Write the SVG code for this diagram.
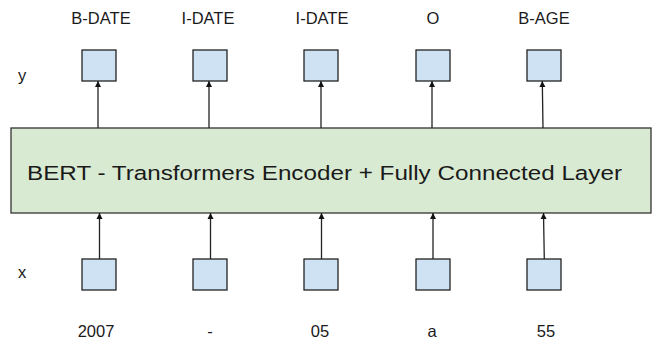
<svg xmlns="http://www.w3.org/2000/svg" width="665" height="344" viewBox="0 0 665 344">
<style>
text{font-family:"Liberation Sans",Arial,sans-serif;fill:#1a1a1a;text-anchor:middle;dominant-baseline:central}
.lbl{font-size:16.5px}
.tok{fill:#cfe2f3;stroke:#222;stroke-width:1.3}
.main{fill:#d9ead3;stroke:#333;stroke-width:1.3}
.c{stroke:#222;stroke-width:1.3;fill:none;marker-end:url(#ah)}
</style>
<defs>
<marker id="ah" viewBox="0 0 6 8" refX="6" refY="4" markerWidth="6" markerHeight="8" markerUnits="userSpaceOnUse" orient="auto">
<path d="M0,1 L6,4 L0,7 Z" fill="#111"/>
</marker>
</defs>
<rect width="665" height="344" fill="#fff"/>
<text class="lbl" x="22" y="75">y</text>
<text class="lbl" x="22" y="272">x</text>
<g id="main"><rect class="main" x="11" y="128" width="640" height="85"/>
<text x="324.5" y="172" style="font-size:20.5px" textLength="595" lengthAdjust="spacingAndGlyphs">BERT - Transformers Encoder + Fully Connected Layer</text></g>
<g id="y1"><rect class="tok" x="82" y="50" width="34" height="31"/><text class="lbl" x="101" y="18">B-DATE</text></g>
<g id="y2"><rect class="tok" x="193" y="50" width="34" height="31"/><text class="lbl" x="208" y="18">I-DATE</text></g>
<g id="y3"><rect class="tok" x="304" y="50" width="34" height="31"/><text class="lbl" x="322" y="18">I-DATE</text></g>
<g id="y4"><rect class="tok" x="416" y="50" width="34" height="31"/><text class="lbl" x="433" y="18">O</text></g>
<g id="y5"><rect class="tok" x="527" y="50" width="34" height="31"/><text class="lbl" x="544" y="18">B-AGE</text></g>
<g id="x1"><rect class="tok" x="82" y="259" width="34" height="31"/><text class="lbl" x="96" y="331">2007</text></g>
<g id="x2"><rect class="tok" x="193" y="259" width="34" height="31"/><text class="lbl" x="210" y="331">-</text></g>
<g id="x3"><rect class="tok" x="304" y="259" width="34" height="31"/><text class="lbl" x="320" y="331">05</text></g>
<g id="x4"><rect class="tok" x="416" y="259" width="34" height="31"/><text class="lbl" x="432" y="331">a</text></g>
<g id="x5"><rect class="tok" x="527" y="259" width="34" height="31"/><text class="lbl" x="546" y="331">55</text></g>
<g id="connectors">
<line class="c" x1="98" y1="128" x2="98" y2="81"/>
<line class="c" x1="209" y1="128" x2="209" y2="81"/>
<line class="c" x1="321" y1="128" x2="321" y2="81"/>
<line class="c" x1="432" y1="128" x2="432" y2="81"/>
<line class="c" x1="543" y1="128" x2="542.3" y2="81"/>
<line class="c" x1="99.5" y1="259" x2="99.5" y2="213"/>
<line class="c" x1="210.5" y1="259" x2="210.5" y2="213"/>
<line class="c" x1="321.5" y1="259" x2="321.5" y2="213"/>
<line class="c" x1="433" y1="259" x2="433" y2="213"/>
<line class="c" x1="544.3" y1="259" x2="543.5" y2="213"/>
</g>
</svg>
